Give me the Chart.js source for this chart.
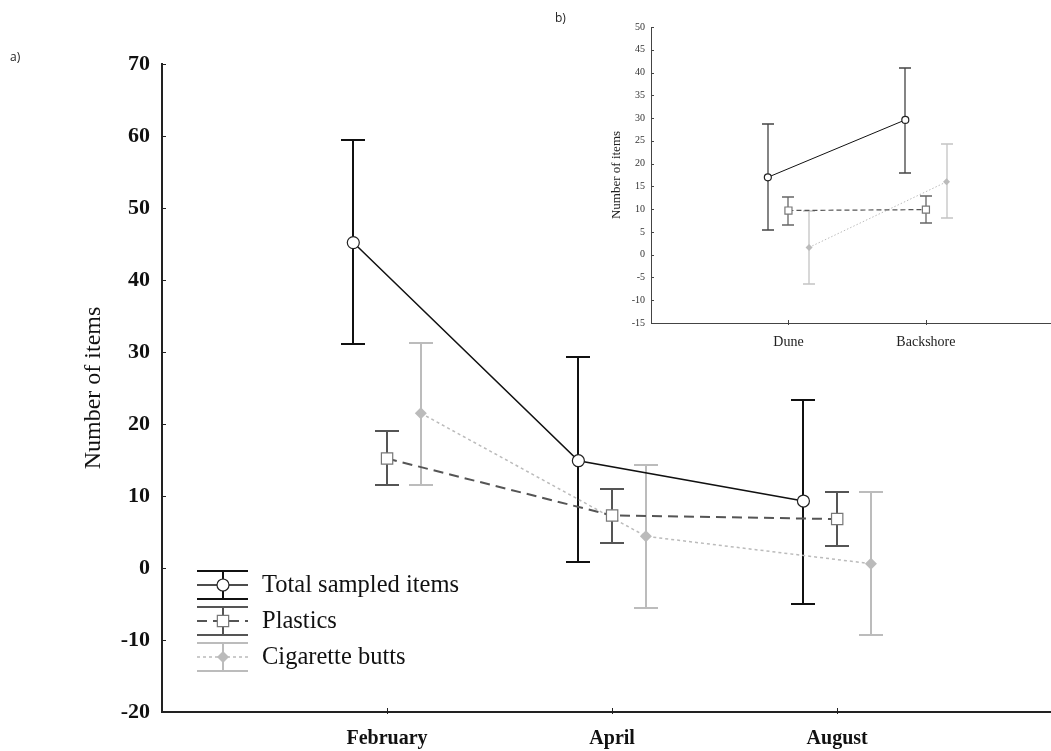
<!DOCTYPE html>
<html>
<head>
<meta charset="utf-8">
<script src="https://cdn.jsdelivr.net/npm/chart.js@4.4.1/dist/chart.umd.min.js"></script>
<style>
  body { margin: 0; background: #fff; }
  #wrap { position: relative; width: 1051px; height: 751px; }
  #mainChart { position: absolute; left: 0; top: 0; }
  #insetChart { position: absolute; left: 530px; top: 0; }
  .panel { position: absolute; font: 12px "Open Sans", "Liberation Sans", sans-serif; color: #222; }
</style>
</head>
<body>
<div id="wrap">
  <canvas id="mainChart" width="1051" height="751"></canvas>
  <canvas id="insetChart" width="521" height="360"></canvas>
  <div class="panel" style="left:10px; top:48px;">a)</div>
  <div class="panel" style="left:555px; top:9px;">b)</div>
</div>
<script>
// a) sampling months
const months = ['February', 'April', 'August'];
const totalMean = [45.2, 14.9, 9.3];
const totalLow = [31.1, 0.9, -5.0];
const totalHigh = [59.4, 29.3, 23.3];
const plasticsMean = [15.2, 7.3, 6.8];
const plasticsLow = [11.5, 3.5, 3.0];
const plasticsHigh = [19.0, 11.0, 10.5];
const cigMean = [21.5, 4.4, 0.6];
const cigLow = [11.5, -5.6, -9.3];
const cigHigh = [31.3, 14.3, 10.5];

// b) beach zones
const zones = ['Dune', 'Backshore'];
const zoneTotalMean = [17.0, 29.6];
const zoneTotalLow = [5.4, 17.9];
const zoneTotalHigh = [28.7, 41.1];
const zonePlasticsMean = [9.7, 9.9];
const zonePlasticsLow = [6.5, 6.9];
const zonePlasticsHigh = [12.7, 12.9];
const zoneCigMean = [1.6, 16.0];
const zoneCigLow = [-6.5, 8.0];
const zoneCigHigh = [9.6, 24.2];

const serif = '"Liberation Serif", "Times New Roman", serif';

// vertical error bars with caps, from dataset.low / dataset.high
const errorBars = {
  id: 'errorBars',
  beforeDatasetsDraw(chart, args, opts) {
    const { ctx, scales: { x, y } } = chart;
    chart.data.datasets.forEach(ds => {
      ctx.save();
      ctx.strokeStyle = ds.barColor;
      ctx.lineWidth = opts.width;
      ctx.beginPath();
      ds.data.forEach((p, j) => {
        const px = Math.round(x.getPixelForValue(p.x));
        const hi = Math.round(y.getPixelForValue(ds.high[j]));
        const lo = Math.round(y.getPixelForValue(ds.low[j]));
        ctx.moveTo(px, hi); ctx.lineTo(px, lo);
        ctx.moveTo(px - opts.cap, hi); ctx.lineTo(px + opts.cap, hi);
        ctx.moveTo(px - opts.cap, lo); ctx.lineTo(px + opts.cap, lo);
      });
      ctx.stroke();
      ctx.restore();
    });
  }
};

// small inward tick marks on the axes
const axisTicks = {
  id: 'axisTicks',
  afterDraw(chart, args, opts) {
    const { ctx, chartArea: a, scales: { x, y } } = chart;
    ctx.save();
    ctx.strokeStyle = opts.color;
    ctx.lineWidth = 1;
    ctx.beginPath();
    y.ticks.forEach(t => {
      const py = Math.round(y.getPixelForValue(t.value)) + 0.5;
      ctx.moveTo(a.left, py); ctx.lineTo(a.left + opts.len, py);
    });
    x.ticks.forEach(t => {
      const px = Math.round(x.getPixelForValue(t.value)) + 0.5;
      ctx.moveTo(px, a.bottom - opts.len); ctx.lineTo(px, a.bottom + 2);
    });
    ctx.stroke();
    ctx.restore();
  }
};

function drawMarker(ctx, style, r, cx, cy) {
  ctx.beginPath();
  if (style === 'circle') {
    ctx.arc(cx, cy, r, 0, Math.PI * 2);
  } else if (style === 'rect') {
    const s = r * Math.SQRT1_2;
    ctx.rect(cx - s, cy - s, 2 * s, 2 * s);
  } else {
    ctx.moveTo(cx - r, cy); ctx.lineTo(cx, cy - r);
    ctx.lineTo(cx + r, cy); ctx.lineTo(cx, cy + r);
    ctx.closePath();
  }
  ctx.fill();
  ctx.stroke();
}

// Statistica-like legend: error bar glyph + line + marker
const errLegend = {
  id: 'errLegend',
  afterDraw(chart, args, opts) {
    const { ctx } = chart;
    chart.data.datasets.forEach((ds, i) => {
      const cy = opts.top + i * opts.rowGap;
      const x0 = opts.left, x1 = opts.left + opts.symbolWidth, cx = Math.round((x0 + x1) / 2);
      ctx.save();
      ctx.strokeStyle = ds.barColor;
      ctx.lineWidth = 2;
      ctx.beginPath();
      ctx.moveTo(x0, cy - opts.half); ctx.lineTo(x1, cy - opts.half);
      ctx.moveTo(x0, cy + opts.half); ctx.lineTo(x1, cy + opts.half);
      ctx.moveTo(cx, cy - opts.half); ctx.lineTo(cx, cy + opts.half);
      ctx.stroke();
      ctx.strokeStyle = ds.borderColor;
      ctx.lineWidth = ds.borderWidth;
      ctx.setLineDash(ds.borderDash || []);
      ctx.beginPath(); ctx.moveTo(x0, cy); ctx.lineTo(x1, cy); ctx.stroke();
      ctx.setLineDash([]);
      ctx.fillStyle = ds.pointBackgroundColor;
      ctx.strokeStyle = ds.pointBorderColor;
      ctx.lineWidth = ds.pointBorderWidth || 0.01;
      drawMarker(ctx, ds.pointStyle, ds.pointRadius, cx, cy);
      ctx.fillStyle = '#111';
      ctx.font = opts.font;
      ctx.textBaseline = 'middle';
      ctx.fillText(ds.label, opts.textX, cy + 1);
      ctx.restore();
    });
  }
};

function series(label, mean, low, high, dodge, style) {
  return Object.assign({
    label: label,
    data: mean.map((v, i) => ({ x: i + 1 + dodge, y: v })),
    low: low,
    high: high,
    tension: 0
  }, style);
}

// keep the plot area flush with the canvas edge
function noEdgePad(s) {
  s.paddingLeft = 0; s.paddingRight = 0;
  s.paddingTop = 0; s.paddingBottom = 0;
}

const totalStyle = {
  borderColor: '#111', borderWidth: 1.5,
  pointStyle: 'circle', pointBackgroundColor: '#fff', pointBorderColor: '#222', pointBorderWidth: 1.2,
  barColor: '#111'
};
const plasticsStyle = {
  borderColor: '#555', borderWidth: 2, borderDash: [10, 6],
  pointStyle: 'rect', pointBackgroundColor: '#fff', pointBorderColor: '#777', pointBorderWidth: 1.2,
  barColor: '#555'
};
const cigStyle = {
  borderColor: '#bbb', borderWidth: 1.5, borderDash: [3, 3],
  pointStyle: 'rectRot', pointBackgroundColor: '#bbb', pointBorderColor: '#bbb', pointBorderWidth: 0,
  barColor: '#bcbcbc'
};

// ---------- main chart (a) ----------
new Chart(document.getElementById('mainChart'), {
  type: 'line',
  data: {
    datasets: [
      series('Total sampled items', totalMean, totalLow, totalHigh, -0.15, Object.assign({ pointRadius: 6 }, totalStyle)),
      series('Plastics', plasticsMean, plasticsLow, plasticsHigh, 0, Object.assign({ pointRadius: 8 }, plasticsStyle)),
      series('Cigarette butts', cigMean, cigLow, cigHigh, 0.15, Object.assign({ pointRadius: 6 }, cigStyle))
    ]
  },
  options: {
    responsive: false,
    animation: false,
    layout: { autoPadding: false, padding: { top: 64, left: 0, right: 0, bottom: 0 } },
    plugins: {
      legend: { display: false },
      tooltip: { enabled: false },
      errorBars: { width: 2, cap: 12 },
      axisTicks: { color: '#222', len: 4 },
      errLegend: { left: 197, symbolWidth: 51, top: 585, rowGap: 36, half: 14, textX: 262, font: '24.5px ' + serif }
    },
    scales: {
      x: {
        type: 'linear',
        min: 0,
        max: 3.95,
        afterBuildTicks: s => { s.ticks = months.map((m, i) => ({ value: i + 1 })); },
        afterFit: s => { s.height = 39; noEdgePad(s); },
        grid: { drawOnChartArea: false, drawTicks: false },
        border: { color: '#222', width: 2 },
        ticks: {
          autoSkip: false, maxRotation: 0, padding: 15, color: '#111',
          font: { family: serif, size: 20, weight: 'bold' },
          callback: v => months[v - 1]
        }
      },
      y: {
        min: -20,
        max: 70,
        afterFit: s => { s.width = 162; noEdgePad(s); },
        grid: { drawOnChartArea: false, drawTicks: false },
        border: { color: '#222', width: 2 },
        ticks: { stepSize: 10, padding: 12, color: '#111', font: { family: serif, size: 22, weight: 'bold' } },
        title: {
          display: true, text: 'Number of items', color: '#111',
          font: { family: serif, size: 24 }, padding: { top: 79, bottom: 0 }
        }
      }
    }
  },
  plugins: [errorBars, axisTicks, errLegend]
});

// ---------- inset chart (b) ----------
new Chart(document.getElementById('insetChart'), {
  type: 'line',
  data: {
    datasets: [
      series('Total sampled items', zoneTotalMean, zoneTotalLow, zoneTotalHigh, -0.15,
        Object.assign({}, totalStyle, { pointRadius: 3.5, borderWidth: 1, barColor: '#444' })),
      series('Plastics', zonePlasticsMean, zonePlasticsLow, zonePlasticsHigh, 0,
        Object.assign({}, plasticsStyle, { pointRadius: 5, borderWidth: 1.2, borderDash: [5, 3], barColor: '#666' })),
      series('Cigarette butts', zoneCigMean, zoneCigLow, zoneCigHigh, 0.15,
        Object.assign({}, cigStyle, { pointRadius: 3.5, borderWidth: 1, borderDash: [1.5, 2], barColor: '#c4c4c4' }))
    ]
  },
  options: {
    responsive: false,
    animation: false,
    layout: { autoPadding: false, padding: { top: 27, left: 0, right: 0, bottom: 0 } },
    plugins: {
      legend: { display: false },
      tooltip: { enabled: false },
      errorBars: { width: 1.3, cap: 6 },
      axisTicks: { color: '#444', len: 3 }
    },
    scales: {
      x: {
        type: 'linear',
        min: 0,
        max: 2.91,
        afterBuildTicks: s => { s.ticks = zones.map((z, i) => ({ value: i + 1 })); },
        afterFit: s => { s.height = 37; noEdgePad(s); },
        grid: { drawOnChartArea: false, drawTicks: false },
        border: { color: '#444', width: 1 },
        ticks: {
          autoSkip: false, maxRotation: 0, padding: 11, color: '#222',
          font: { family: serif, size: 14 },
          callback: v => zones[v - 1]
        }
      },
      y: {
        min: -15,
        max: 50,
        afterFit: s => { s.width = 121; noEdgePad(s); },
        grid: { drawOnChartArea: false, drawTicks: false },
        border: { color: '#444', width: 1 },
        ticks: { stepSize: 5, padding: 6, color: '#333', font: { family: serif, size: 10 } },
        title: {
          display: true, text: 'Number of items', color: '#222',
          font: { family: serif, size: 13 }, padding: { top: 79, bottom: 0 }
        }
      }
    }
  },
  plugins: [errorBars, axisTicks]
});
</script>
</body>
</html>
